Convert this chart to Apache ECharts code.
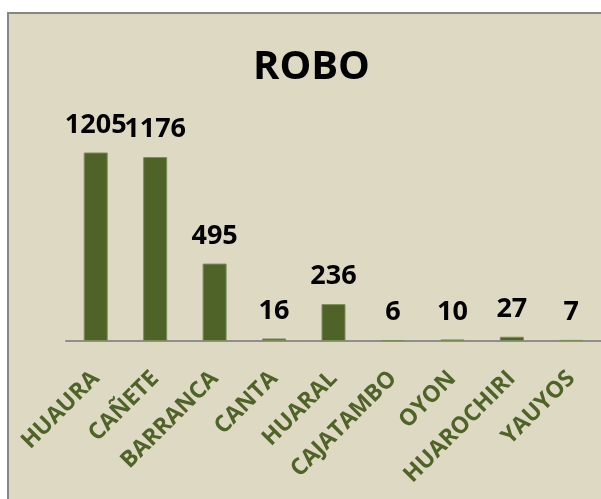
<!DOCTYPE html>
<html>
<head>
<meta charset="utf-8">
<script src="https://cdn.jsdelivr.net/npm/echarts@6/dist/echarts.min.js"></script>
<style>
  html, body { margin: 0; padding: 0; background: #ffffff; overflow: hidden; }
  #frame {
    position: absolute; left: 7px; top: 12px; width: 620px; height: 520px;
    background: #ddd9c3; border-left: 2px solid #868686; border-top: 2px solid #868686;
  }
  #main { position: absolute; left: 0; top: 0; width: 601px; height: 499px; }
</style>
</head>
<body>
<div id="frame"></div>
<div id="main"></div>
<script>
var categories = ['HUAURA', 'CAÑETE', 'BARRANCA', 'CANTA', 'HUARAL', 'CAJATAMBO', 'OYON', 'HUAROCHIRI', 'YAUYOS'];
var robo = [1205, 1176, 495, 16, 236, 6, 10, 27, 7];

var chart = echarts.init(document.getElementById('main'));

var option = {
    backgroundColor: 'transparent',
    animation: false,
    title: {
        text: 'ROBO',
        left: 248,
        top: 43,
        textStyle: {
            fontFamily: 'Open Sans',
            fontWeight: 'bold',
            fontSize: 40,
            color: '#000000'
        }
    },
    grid: {
        left: 66,
        right: 0,
        top: 122,
        bottom: 158
    },
    xAxis: {
        type: 'category',
        data: categories,
        axisLine: { show: true, lineStyle: { color: '#8e8e8e', width: 2 } },
        axisTick: { show: false },
        axisLabel: {
            interval: 0,
            rotate: 45,
            margin: 34,
            fontFamily: 'Open Sans',
            fontWeight: 'bold',
            fontSize: 23,
            color: '#4f6228'
        }
    },
    yAxis: {
        type: 'value',
        min: 0,
        max: 1400,
        show: false,
        splitLine: { show: false }
    },
    series: [{
        type: 'bar',
        data: robo,
        barWidth: 24,
        itemStyle: { color: '#4f6228', borderColor: '#7d8c5c', borderWidth: 1 },
        label: {
            show: true,
            position: 'top',
            distance: 14,
            fontFamily: 'Open Sans',
            fontWeight: 'bold',
            fontSize: 27,
            color: '#000000'
        },
        labelLayout: { hideOverlap: false }
    }]
};

chart.setOption(option);
</script>
</body>
</html>
